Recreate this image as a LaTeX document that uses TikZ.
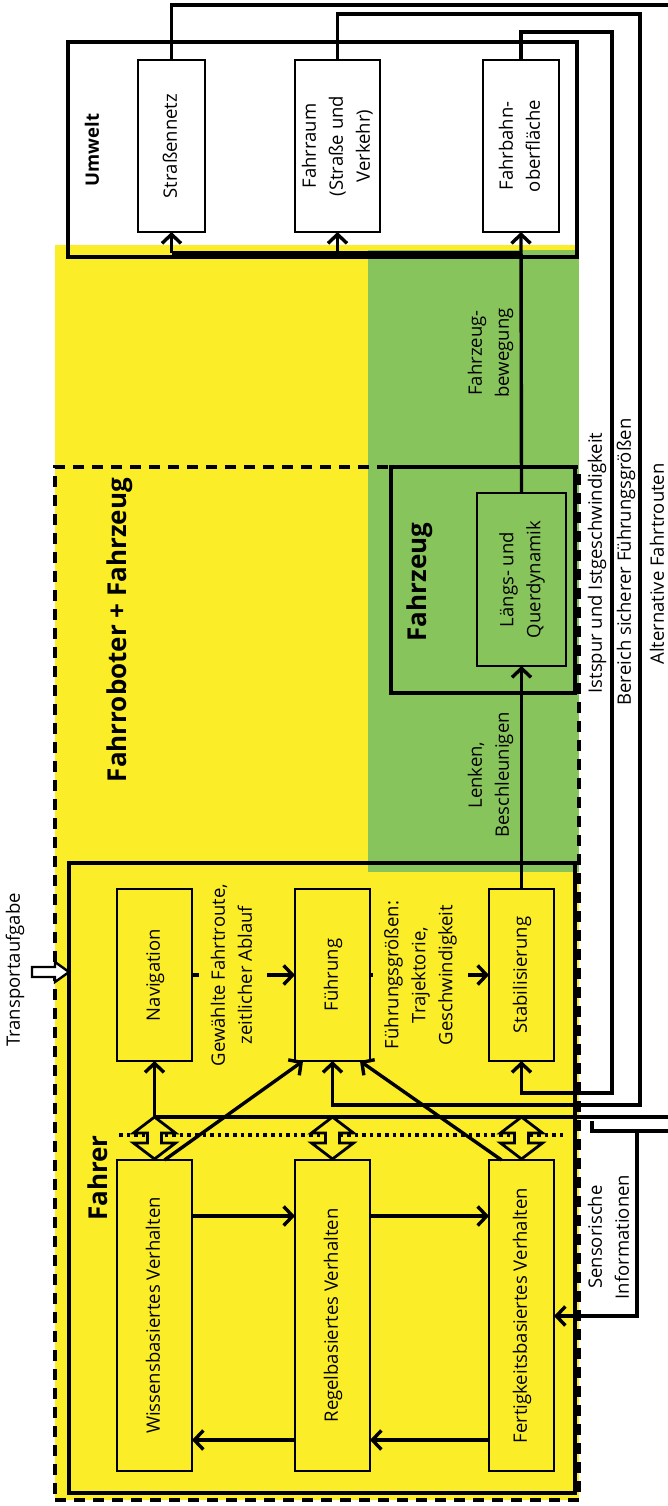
\documentclass[tikz,border=0pt]{standalone}
\usepackage{fontspec}
\setmainfont{Open Sans}
\usetikzlibrary{arrows.meta,calc}
\definecolor{ybg}{RGB}{251,237,40}
\definecolor{gbg}{RGB}{136,196,92}
% rotated (bottom-to-top) centred text block
\newcommand{\rt}[1]{\rotatebox{90}{\begin{tabular}{@{}c@{}}#1\end{tabular}}}
\tikzset{
  box/.style={draw, line width=2.2pt, inner sep=0pt, outer sep=0pt},
  bigbox/.style={draw, line width=3.6pt, inner sep=0pt, outer sep=0pt},
  dashbox/.style={draw, line width=3.6pt, dash pattern=on 11pt off 8pt, inner sep=0pt, outer sep=0pt},
  ln/.style={line width=3.4pt},
  arr/.style={line width=3.4pt, -{Straight Barb[length=9pt,width=19pt]}},
  lbl/.style={inner sep=0pt},
  cover/.style={inner sep=7pt, fill=ybg},
  hd/.style={inner sep=0pt, font=\fontsize{26}{30}\selectfont\bfseries},
  dbl/.pic={\draw[line width=2.8pt, fill=ybg, line join=miter]
    (0,0) -- (21,16) -- (7,16) -- (7,26) -- (21,26) -- (0,42) -- (-21,26)
    -- (-7,26) -- (-7,16) -- (-21,16) -- cycle;},
  hollow/.pic={\draw[line width=2.4pt, fill=white, line join=miter]
    (0,0) -- (-14,-10) -- (-14,-5) -- (-37,-5) -- (-37,5) -- (-14,5) -- (-14,10) -- cycle;}
}
\begin{document}
\begin{tikzpicture}[x=1pt, y=-1pt, font=\fontsize{18.5}{27}\selectfont]
\useasboundingbox (0,0) rectangle (668,1506);
\fill[white] (0,0) rectangle (668,1506);
\clip (0,0) rectangle (668,1506);

% coloured areas: driving robot (yellow) and vehicle (green)
\fill[ybg] (55,245) rectangle (579,1500);
\fill[gbg] (368,250) rectangle (579,872);

% environment
\node[bigbox, minimum width=509, minimum height=215] (umw) at (322.5,149.5) {};
\node[lbl] (lumw) at (92,150) {\rotatebox{90}{\fontsize{18.5}{22}\selectfont\bfseries Umwelt}};
\node[box, fill=white, minimum width=67, minimum height=172] (sn) at (171.5,146) {\rt{Straßennetz}};
\node[box, fill=white, minimum width=85, minimum height=172] (fr) at (337.5,146) {\rt{Fahrraum\\(Straße und\\Verkehr)}};
\node[box, fill=white, minimum width=76, minimum height=172] (fo) at (521,146) {\rt{Fahrbahn-\\oberfläche}};

% robot + vehicle frame
\node[dashbox, minimum width=524, minimum height=1033] (frf) at (317,983.5) {};
\node[hd] (lfrf) at (120,630) {\rotatebox{90}{Fahrroboter + Fahrzeug}};

% vehicle
\node[bigbox, minimum width=184, minimum height=226] (fzg) at (483,580) {};
\node[hd] (lfzg) at (420,582) {\rotatebox{90}{Fahrzeug}};
\node[box, minimum width=89, minimum height=173] (lq) at (521.5,579.5) {\rt{Längs- und\\Querdynamik}};

% driver
\node[bigbox, minimum width=506, minimum height=630] (fah) at (322,1178) {};
\node[hd] (lfah) at (98,1178) {\rotatebox{90}{Fahrer}};

\node[box, fill=ybg, minimum width=75, minimum height=172] (nav) at (154.5,975) {\rt{Navigation}};
\node[box, fill=ybg, minimum width=75, minimum height=172] (fu) at (332.5,975) {\rt{Führung}};
\node[box, fill=ybg, minimum width=65, minimum height=172] (st) at (521.5,975) {\rt{Stabilisierung}};

\node[box, fill=ybg, minimum width=75, minimum height=311] (wis) at (154.5,1315.5) {\rt{Wissensbasiertes Verhalten}};
\node[box, fill=ybg, minimum width=75, minimum height=311] (reg) at (332.5,1315.5) {\rt{Regelbasiertes Verhalten}};
\node[box, fill=ybg, minimum width=65, minimum height=311] (fer) at (521.5,1315.5) {\rt{Fertigkeitsbasiertes Verhalten}};

% helper levels
\coordinate (y1) at (0,5);
\coordinate (y2) at (0,14);
\coordinate (y3) at (0,32);
\coordinate (ym) at (0,253);
\coordinate (xa) at (690,0);
\coordinate (xb) at (640,0);
\coordinate (xc) at (612,0);
\coordinate (ya) at (0,1117);
\coordinate (yb) at (0,1105);
\coordinate (yc) at (0,1093);
\coordinate (ys) at (0,1131);
\coordinate (yi) at (0,1316);
\coordinate (xs) at (637,0);
\coordinate (xt) at (592,0);

% vehicle motion into the environment
\draw[arr] (lq.north) -- (fo.south);
\draw[ln] (lq.north |- ym) -- (sn.south |- ym);
\draw[arr] (sn.south |- ym) -- (sn.south);
\draw[arr] (fr.south |- ym) -- (fr.south);
\node[lbl] (lbew) at (490,353) {\rt{Fahrzeug-\\bewegung}};

% steering / acceleration
\draw[arr] (st.north) -- (lq.south);
\node[lbl] (llen) at (490,775) {\rt{Lenken,\\Beschleunigen}};

% feedback from the environment
\draw[arr] (sn.north) -- (sn.north |- y1) -- (xa |- y1) -- (xa |- ya) -- (nav.south |- ya) -- (nav.south);
\draw[arr] (fr.north) -- (fr.north |- y2) -- (xb |- y2) -- (xb |- yb) -- (fu.south |- yb) -- (fu.south);
\draw[arr] (fo.north) -- (fo.north |- y3) -- (xc |- y3) -- (xc |- yc) -- (st.south |- yc) -- (st.south);
\node[lbl] (list) at (597,563) {\rotatebox{90}{Istspur und Istgeschwindigkeit}};
\node[lbl] (lber) at (626,562) {\rotatebox{90}{Bereich sicherer Führungsgrößen}};
\node[lbl] (lalt) at (657,564) {\rotatebox{90}{Alternative Fahrtrouten}};

% sensory information
\draw[ln] (xt |- 0,1121) -- (xt |- ys) -- (xa |- ys);
\draw[arr] (xs |- ys) -- (xs |- yi) -- (fer.east |- yi);
\node[lbl] (lsen) at (610,1237) {\rt{Sensorische\\Informationen}};

% transport task
\coordinate (tp) at (fah.west |- 0,972);
\pic at (tp) {hollow};
\node[lbl] (ltr) at (15,970) {\rotatebox{90}{Transportaufgabe}};

% driver: levels of guidance
\draw[arr] (nav.east) -- (fu.west);
\node[cover] (lgew) at (233,975) {\rt{Gewählte Fahrtroute,\\zeitlicher Ablauf}};
\draw[arr] (fu.east) -- (st.west);
\node[cover] (lfg) at (420,975) {\rt{Führungsgrößen:\\Trajektorie,\\Geschwindigkeit}};

% driver: levels of behaviour
\draw[arr] (wis.east |- 0,1216) -- (reg.west |- 0,1216);
\draw[arr] (reg.east |- 0,1216) -- (fer.west |- 0,1216);
\draw[arr] (reg.west |- 0,1440) -- (wis.east |- 0,1440);
\draw[arr] (fer.west |- 0,1440) -- (reg.east |- 0,1440);

% boundary between the two hierarchies
\draw[line width=3.6pt, dash pattern=on 3.6pt off 4pt] (119,1135) -- (565,1135);
\pic at (wis.north |- ya) {dbl};
\pic at (reg.north |- ya) {dbl};
\pic at (fer.north |- ya) {dbl};

\draw[arr] ($(wis.north)+(10,0)$) -- ($(fu.south west)+(8,0)$);
\draw[arr] ($(fer.north)+(-20,0)$) -- ($(fu.south east)+(-10,0)$);
\end{tikzpicture}
\end{document}
